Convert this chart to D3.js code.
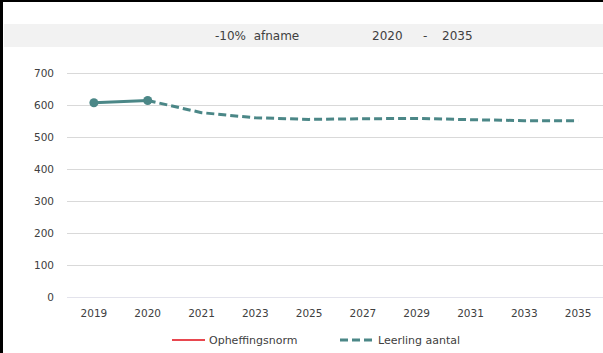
<!DOCTYPE html>
<html><head><meta charset="utf-8">
<script src="https://cdn.jsdelivr.net/npm/d3@7"></script>
<style>
html,body{margin:0;padding:0;background:#fff;}
svg{display:block;font-family:"DejaVu Sans",sans-serif;}
</style></head>
<body>
<script>
const categories = ["2019","2020","2021","2023","2025","2027","2029","2031","2033","2035"];
const leerlingAantal = [608, 615, 577, 561, 556, 558, 559, 555, 552, 552];
const opheffingsnorm = [];
const yTicks = [0,100,200,300,400,500,600,700];
const titleParts = ["-10%  afname", "2020", "-", "2035"];
const legendLabels = ["Opheffingsnorm", "Leerling aantal"];
const solidCount = 2; // first points drawn solid with markers

const W = 603, H = 353;
const svg = d3.select("body").append("svg").attr("width", W).attr("height", H);

// border
svg.append("rect").attr("x",0).attr("y",0).attr("width",3).attr("height",H).attr("fill","#000");
svg.append("rect").attr("x",0).attr("y",0).attr("width",W).attr("height",2).attr("fill","#000");

// title band
svg.append("rect").attr("x",4).attr("y",24).attr("width",W-4).attr("height",23).attr("fill","#f2f2f2");
const tx = [215, 372, 423, 442];
svg.selectAll("text.title").data(titleParts).enter().append("text")
  .attr("x",(d,i)=>tx[i]).attr("y",40).attr("font-size",12).attr("fill","#404040")
  .attr("xml:space","preserve").style("white-space","pre").text(d=>d);

const x = d3.scaleBand().domain(categories).range([67, 605]);
const y = d3.scaleLinear().domain([0,700]).range([297.3, 73.3]);

// gridlines
svg.append("g").selectAll("line").data(yTicks).enter().append("line")
  .attr("x1",67).attr("x2",W).attr("y1",d=>Math.round(y(d))+0.5).attr("y2",d=>Math.round(y(d))+0.5)
  .attr("stroke",d=>d===0?"#e3e3ec":"#d9d9d9").attr("stroke-width",1);

// y labels
svg.append("g").selectAll("text").data(yTicks).enter().append("text")
  .attr("x",54).attr("y",d=>y(d)+4).attr("text-anchor","end")
  .attr("font-size",10.5).attr("fill","#404040").text(d=>d);

// x labels
svg.append("g").selectAll("text").data(categories).enter().append("text")
  .attr("x",d=>x(d)+x.bandwidth()/2).attr("y",317).attr("text-anchor","middle")
  .attr("font-size",10.5).attr("fill","#404040").text(d=>d);

const color = "#4b8787";
const pts = categories.map((c,i)=>({c, v: leerlingAantal[i]}));
const line = d3.line().x(d=>x(d.c)+x.bandwidth()/2).y(d=>y(d.v));

svg.append("path").datum(pts.slice(solidCount-1)).attr("d",line)
  .attr("fill","none").attr("stroke",color).attr("stroke-width",3)
  .attr("stroke-dasharray","8,4");
svg.append("path").datum(pts.slice(0,solidCount)).attr("d",line)
  .attr("fill","none").attr("stroke",color).attr("stroke-width",3);
svg.append("g").selectAll("circle").data(pts.slice(0,solidCount)).enter().append("circle")
  .attr("cx",d=>x(d.c)+x.bandwidth()/2).attr("cy",d=>y(d.v)).attr("r",4.5).attr("fill",color);

// legend
const lg = svg.append("g");
lg.append("line").attr("x1",172).attr("x2",205).attr("y1",340).attr("y2",340)
  .attr("stroke","#e8474f").attr("stroke-width",2);
lg.append("text").attr("x",209).attr("y",344).attr("font-size",11).attr("fill","#404040").text(legendLabels[0]);
lg.append("line").attr("x1",340).attr("x2",374).attr("y1",340).attr("y2",340)
  .attr("stroke",color).attr("stroke-width",3).attr("stroke-dasharray","8,4");
lg.append("text").attr("x",378).attr("y",344).attr("font-size",11).attr("fill","#404040").text(legendLabels[1]);
</script>
</body></html>
